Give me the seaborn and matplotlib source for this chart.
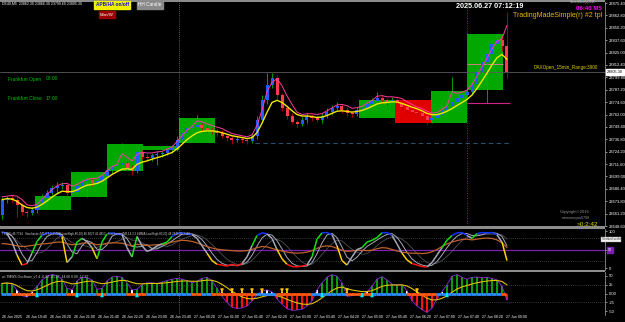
import numpy as np
import pandas as pd
import matplotlib
matplotlib.use("Agg")
import matplotlib.pyplot as plt
import seaborn as sns
from matplotlib.collections import LineCollection
from matplotlib.patches import Rectangle

# ---------------- data ----------------
first_open = 23660.1
closes = [
    23675.3, 23677.3, 23675.3, 23670.2, 23663.1, 23662.1, 23665.1, 23670.2, 23677.3, 23682.4,
    23687.5, 23689.5, 23690.5, 23682.4, 23683.4, 23689.5, 23694.6, 23695.6, 23692.6, 23694.6,
    23699.7, 23705.8, 23709.8, 23710.9, 23712.9, 23707.8, 23704.8, 23724.1, 23719.0, 23718.0,
    23721.0, 23722.0, 23723.1, 23726.1, 23728.1, 23736.3, 23743.4, 23748.5, 23749.5, 23751.5,
    23748.5, 23746.4, 23745.4, 23743.4, 23740.3, 23738.3, 23736.3, 23737.3, 23736.3, 23735.2,
    23740.3, 23756.6, 23776.9, 23792.1, 23799.3, 23782.0, 23768.8, 23760.6, 23754.5, 23752.5,
    23756.6, 23760.6, 23758.6, 23756.6, 23760.6, 23764.7, 23768.8, 23770.8, 23766.7, 23763.7,
    23762.7, 23766.7, 23768.8, 23772.8, 23775.9, 23778.9, 23776.9, 23774.9, 23776.9, 23773.9,
    23769.8, 23766.7, 23764.7, 23763.7, 23760.6, 23756.6, 23758.6, 23761.7, 23766.7, 23770.8,
    23774.9, 23778.9, 23782.0, 23785.0, 23793.2, 23805.3, 23815.5, 23823.6, 23833.8, 23837.9,
    23831.8, 23805.3]
wick_up = [
    3, 2, 3, 3, 2, 2, 3, 2, 4, 3,
    3, 4, 3, 2, 3, 3, 2, 3, 2, 3,
    3, 4, 3, 3, 20, 2, 3, 4, 2, 3,
    2, 3, 2, 3, 3, 4, 3, 3, 4, 10,
    2, 2, 3, 2, 3, 2, 2, 3, 2, 2,
    3, 4, 5, 12, 5, 3, 2, 2, 3, 2,
    3, 3, 2, 3, 3, 4, 3, 4, 2, 3,
    2, 3, 3, 4, 3, 6, 3, 2, 3, 2,
    3, 2, 3, 2, 3, 2, 3, 3, 4, 3,
    25, 3, 4, 4, 5, 4, 5, 4, 5, 6,
    4, 34.5]
wick_dn = [
    4, 3, 2, 12, 3, 4, 2, 3, 2, 3,
    2, 5, 3, 3, 2, 3, 2, 16, 3, 2,
    3, 2, 3, 2, 3, 3, 4, 2, 3, 2,
    3, 10, 3, 2, 3, 3, 2, 3, 2, 3,
    3, 2, 3, 3, 2, 3, 4, 2, 3, 3,
    2, 3, 3, 4, 3, 4, 3, 3, 2, 3,
    2, 3, 3, 2, 3, 2, 3, 2, 3, 3,
    3, 2, 3, 3, 2, 3, 3, 3, 2, 3,
    3, 3, 2, 3, 3, 4, 3, 3, 2, 3,
    3, 3, 3, 4, 3, 3, 4, 42, 3, 4,
    5, 5.7]
stoch_fast = [
    97, 93, 70, 35, 8, 12, 40, 72, 88, 95,
    93, 94, 85, 15, 30, 70, 80, 72, 55, 25,
    70, 92, 95, 92, 90, 55, 30, 85, 60, 45,
    50, 60, 65, 70, 85, 93, 95, 92, 90, 80,
    60, 40, 20, 10, 8, 5, 10, 6, 12, 30,
    60, 88, 95, 92, 80, 50, 25, 10, 4, 3,
    5, 8, 30, 78, 95, 96, 90, 60, 20, 8,
    30, 50, 55, 70, 75, 82, 95, 96, 88, 65,
    40, 22, 12, 8, 4, 3, 15, 35, 55, 75,
    88, 95, 96, 88, 80, 93, 96, 95, 96, 90,
    70, 20]
tsi_line = [
    66, 65, 63, 60, 58, 59, 61, 63, 65, 66,
    68, 70, 70, 66, 63, 64, 67, 68, 66, 63,
    64, 67, 68, 68, 67, 63, 60, 64, 63, 61,
    62, 63, 64, 66, 70, 73, 75, 74, 72, 68,
    63, 58, 54, 51, 49, 48, 47, 46, 46, 47,
    50, 55, 58, 57, 53, 49, 46, 43, 41, 40,
    41, 43, 47, 53, 58, 60, 58, 53, 48, 45,
    46, 48, 48, 47, 48, 52, 55, 54, 50, 46,
    43, 41, 40, 40, 39, 40, 44, 50, 58, 65,
    70, 74, 77, 78, 76, 78, 80, 81, 80, 76,
    68, 55]
osc_hist = [
    28, 30, 26, 10, -6, -10, 5, 20, 38, 48,
    53, 50, 40, 15, 10, 35, 45, 44, 38, 12,
    14, 35, 46, 48, 45, 30, 10, 12, 25, 30,
    30, 28, 32, 36, 40, 42, 40, 36, 30, 34,
    42, 45, 35, 15, -8, -25, -38, -42, -40, -35,
    -20, -5, 8, 10, 4, -15, -30, -42, -47, -46,
    -44, -35, -20, 10, 30, 45, 53, 48, 30, -8,
    -6, -4, -3, 5, 20, 40, 47, 38, 26, 24,
    25, 8, -20, -35, -45, -53, -40, -15, 5, 25,
    48, 53, 45, 40, 45, 46, 44, 45, 42, 38,
    20, -18]
cyan_up_bars = [7, 15, 20, 27, 64, 72, 74, 89]
yellow_dn_bars = [44, 46, 48, 50, 52, 56, 57, 69, 83]

# hourly session boxes (minutes after 26 Jun 19:00)
box_start = [60, 120, 180, 240, 300, 600, 660, 720, 780]
box_hi = [23679.3, 23703.8, 23732.2, 23730.2, 23758.6, 23776.9, 23776.9, 23786.0, 23843.9]
box_lo = [23665.1, 23678.3, 23704.8, 23726.1, 23733.2, 23758.6, 23753.5, 23753.5, 23787.0]
box_bull = [1, 1, 1, 1, 1, 1, 0, 1, 1]

price_ticks = ["23875.40", "23862.80", "23850.20", "23837.60", "23825.00", "23812.40",
               "23799.80", "23787.20", "23774.60", "23762.00", "23749.40", "23736.80",
               "23724.20", "23711.60", "23699.00", "23686.40", "23673.80", "23661.20",
               "23648.60"]
time_labels = ["26 Jun 2025", "26 Jun 19:40", "26 Jun 20:20", "26 Jun 21:00", "26 Jun 21:40",
               "26 Jun 22:20", "26 Jun 23:00", "26 Jun 23:40", "27 Jun 00:20", "27 Jun 01:00",
               "27 Jun 01:40", "27 Jun 02:20", "27 Jun 03:00", "27 Jun 03:40", "27 Jun 04:20",
               "27 Jun 05:00", "27 Jun 05:40", "27 Jun 06:20", "27 Jun 07:00", "27 Jun 07:40",
               "27 Jun 08:20", "27 Jun 09:00"]
osc_ticks = [50, 25, 0, -25, -50]
osc_tick_labels = ["50", "25", "0.00", "-25", "-50"]
bid_price = 23805.3
range_line = 23733.2
hour_hi_line = 23813.5
hour_mid_line = 23773.9

# ---------------- figure ----------------
sns.set_theme(style="dark", rc={"axes.facecolor": "black", "figure.facecolor": "black",
                                "axes.edgecolor": "#8c8c8c", "text.color": "white",
                                "xtick.color": "white", "ytick.color": "white"})
plt.rcParams['font.family'] = ['Liberation Sans', 'DejaVu Sans']

W, H = 625, 322
fig = plt.figure(figsize=(W / 100, H / 100), dpi=100, facecolor="black")


def px_axes(x0, y0, x1, y1):
    a = fig.add_axes([x0 / W, 1 - y1 / H, (x1 - x0) / W, (y1 - y0) / H])
    a.set_facecolor("black")
    for s in ["top", "left", "bottom"]:
        a.spines[s].set_visible(False)
    a.spines["right"].set_color("#8c8c8c")
    a.spines["right"].set_linewidth(0.6)
    a.yaxis.tick_right()
    a.tick_params(axis="y", labelsize=3.0, length=1.5, width=0.4, pad=1, colors="white")
    a.tick_params(axis="x", length=0, labelbottom=False)
    a.grid(False)
    return a


def fig_rect(x0, y0, x1, y1, color):
    fig.add_artist(Rectangle((x0 / W, 1 - y1 / H), (x1 - x0) / W, (y1 - y0) / H,
                             transform=fig.transFigure, color=color, lw=0))


ax_m = px_axes(0, 1.5, 605, 226)
ax_s = px_axes(0, 228.5, 605, 270)
ax_o = px_axes(0, 272, 605, 315)

t0, t1 = 1 / 0.6, 606 / 0.6
for a in (ax_m, ax_s, ax_o):
    a.set_xlim(t0, t1)

n = len(closes)
bar_min = 5 + np.arange(n) * 25 / 3
opens = np.array([first_open] + closes[:-1])
c = np.array(closes)
hi = np.maximum(opens, c) + np.array(wick_up)
lo = np.minimum(opens, c) - np.array(wick_dn)
bw = 25 / 3 * 0.6

# ----- main panel -----
ax_m.set_ylim(23648.9, 23877.0)
for s, h, l, b in zip(box_start, box_hi, box_lo, box_bull):
    ax_m.add_patch(Rectangle((s, l), 60, h - l, color="#00a800" if b else "#e00000", lw=0, zorder=1))

ax_m.axhline(bid_price, color="#5a5a5a", lw=0.6, zorder=1.5)
ax_m.hlines(range_line, 427, 852, colors="#28506e", lw=0.8, linestyles=(0, (4, 3)), zorder=1.5)
ax_m.hlines(hour_hi_line, 780, 840, colors="#d08080", lw=0.7, zorder=1.5)
ax_m.hlines(hour_mid_line, 780, 852, colors="#d0208a", lw=0.8, zorder=1.5)
ax_m.axvline(780, color="#00a000", lw=0.6, ls=(0, (1, 2)), zorder=1.5)

up = c >= opens
ax_m.vlines(bar_min[up], lo[up], hi[up], colors="#00b400", lw=0.6, zorder=2)
ax_m.vlines(bar_min[~up], lo[~up], hi[~up], colors="#c00000", lw=0.6, zorder=2)
ax_m.bar(bar_min[up], (c - opens)[up], bottom=opens[up], width=bw, color="#1f5bff", lw=0, zorder=3)
ax_m.bar(bar_min[~up], (c - opens)[~up], bottom=opens[~up], width=bw, color="#ff3a4a", lw=0, zorder=3)

ema_slow = pd.Series(c).ewm(span=6).mean().values
ema_fast = pd.Series(hi).ewm(span=3).mean().values
sns.lineplot(x=bar_min, y=ema_slow, ax=ax_m, color="#f2e600", lw=1.0, zorder=4)
sns.lineplot(x=bar_min, y=ema_fast, ax=ax_m, color="#ff3aa0", lw=0.7, zorder=4)

ax_m.set_yticks([float(v) for v in price_ticks])
ax_m.set_yticklabels(price_ticks)
ax_m.set_ylabel("")

# ----- stochastic panel -----
ax_s.set_ylim(-5.4, 106.8)
ax_s.axhline(50, color="#7a1fb0", lw=0.9, zorder=1)
for lvl in (80, 20):
    ax_s.axhline(lvl, color="#6a6a6a", lw=0.5, ls=(0, (1, 2)), zorder=1)
sv = np.array(stoch_fast, float)
sig1 = pd.Series(sv).rolling(3, min_periods=1).mean().values
sig2 = pd.Series(sv).rolling(6, min_periods=1).mean().values
sns.lineplot(x=bar_min, y=sig2, ax=ax_s, color="#5c5c66", lw=0.5, zorder=2)
sns.lineplot(x=bar_min, y=sig1, ax=ax_s, color="#a4a8b8", lw=0.7, zorder=2)
sns.lineplot(x=bar_min, y=tsi_line, ax=ax_s, color="#c0602a", lw=0.9, zorder=2.5)
segs, cols = [], []
for i in range(n - 1):
    a_, b_ = sv[i], sv[i + 1]
    segs.append([(bar_min[i], a_), (bar_min[i + 1], b_)])
    if a_ >= 85 and b_ >= 85:
        cols.append("#1034ff")
    elif b_ > a_ and b_ >= 70:
        cols.append("#12e012")
    elif max(a_, b_) <= 12:
        cols.append("#ff1010")
    elif b_ < a_ and b_ < 30:
        cols.append("#ffd000")
    else:
        cols.append("#a4a8b8")
ax_s.add_collection(LineCollection(segs, colors=cols, linewidths=1.1, zorder=3))
ax_s.set_yticks([100, 50, 0])
ax_s.set_yticklabels(["100", "", "0"])
ax_s.set_ylabel("")

# ----- oscillator panel -----
ax_o.set_ylim(-60, 60)
for lvl in (25, -25):
    ax_o.axhline(lvl, color="#6a6a6a", lw=0.5, ls=(0, (1, 2)), zorder=1)
hv = np.array(osc_hist, float)
bar_cols = ["#ffffff" if abs(v) < 12 else ("#0b9a0b" if v > 0 else "#ff1010") for v in hv]
ax_o.bar(bar_min, hv, width=bw * 0.75, color=bar_cols, lw=0, zorder=2)
sns.lineplot(x=bar_min, y=hv, ax=ax_o, color="#8a2be2", lw=0.6, zorder=2.5)
sig = pd.Series(hv).ewm(span=10).mean().values
sns.lineplot(x=bar_min, y=sig, ax=ax_o, color="#e0c000", lw=0.8, zorder=3)
zsegs, zcols = [], []
for i in range(n - 1):
    zsegs.append([(bar_min[i] - 2, 0), (bar_min[i + 1] - 2, 0)])
    zcols.append("#2a8cff" if hv[i] >= sig[i] else "#ff5a10")
ax_o.add_collection(LineCollection(zsegs, colors=zcols, linewidths=2.0, zorder=3.5))
for i in cyan_up_bars:
    ax_o.annotate("", xy=(bar_min[i], 9), xytext=(bar_min[i], -9),
                  arrowprops=dict(arrowstyle="-|>", color="#00e8ff", lw=0.9, mutation_scale=4), zorder=4)
for i in yellow_dn_bars:
    ax_o.annotate("", xy=(bar_min[i], -5), xytext=(bar_min[i], 11),
                  arrowprops=dict(arrowstyle="-|>", color="#ffc800", lw=0.9, mutation_scale=4), zorder=4)
ax_o.set_yticks(osc_ticks)
ax_o.set_yticklabels(osc_tick_labels)
ax_o.set_ylabel("")

# day separator (27 Jun 00:00) through all panels
for a in (ax_m, ax_s, ax_o):
    a.axvline(300, color="#b0b0b0", lw=0.5, ls=(0, (1, 2)), zorder=1.2)

# x tick labels (left aligned, below bottom panel)
tick_min = np.arange(len(time_labels)) * 40
for tm, lab in zip(tick_min, time_labels):
    xp = -1 + 0.6 * tm
    fig.text((xp + 3) / W, 1 - 317.5 / H, lab, fontsize=2.6, color="white", ha="left", va="center")

# separators / borders
fig_rect(0, 0, 605, 1.5, "#8c8c8c")
fig_rect(0, 226, 605, 228.5, "#8c8c8c")
fig_rect(0, 270, 605, 272, "#8c8c8c")
fig_rect(0, 314.6, 605, 315.2, "#8c8c8c")


def ftxt(x, y, s, **kw):
    kw.setdefault("va", "center")
    fig.text(x / W, 1 - y / H, s, **kw)


# ----- annotations -----
ftxt(2, 4, "DE40,M5  23862.30 23866.30 23799.60 23805.30", fontsize=2.6, color="white")
ftxt(112, 5, "APB/HA on/off", fontsize=3.4, color="#1010d0", weight="bold", ha="center",
     bbox=dict(boxstyle="square,pad=0.25", fc="#f0f000", ec="#f0f000"))
ftxt(150, 5, "HH Candle", fontsize=3.4, color="white", ha="center",
     bbox=dict(boxstyle="square,pad=0.25", fc="#8a8a8a", ec="#8a8a8a"))
ftxt(107, 14.5, "M/m/W", fontsize=3.2, color="white", ha="center",
     bbox=dict(boxstyle="square,pad=0.25", fc="#9a0000", ec="#9a0000"))
ftxt(490, 6, "2025.06.27 07:12:19", fontsize=5.2, color="white", weight="bold", ha="center")
ftxt(583, 2.5, "ScreenShot(c)2015", fontsize=2.2, color="#d0d0d0", ha="center")
ftxt(589, 9, "06:40 M5", fontsize=4.4, color="#ff00ff", weight="bold", ha="center")
ftxt(602, 15.5, "TradingMadeSimple(r) #2 tpl", fontsize=5.0, color="#e8b800", ha="right")
ftxt(566, 67.5, "DAXOpen_15min_Range:3900", fontsize=3.3, color="#e0d000", ha="center")
ftxt(8, 79, "Frankfurt Open", fontsize=3.5, color="#00c000")
ftxt(46, 79, "08:00", fontsize=3.5, color="#00c000")
ftxt(8, 98, "Frankfurt Close", fontsize=3.5, color="#00c000")
ftxt(46, 98, "17:00", fontsize=3.5, color="#00c000")
ftxt(560, 212, "Copyright©2016", fontsize=3.0, color="#909090")
ftxt(562, 217.5, "memoneyoo0708", fontsize=2.6, color="#909090")
ftxt(577, 224, ">0:2:42", fontsize=4.6, color="#d8d800")
ftxt(615, 72, "23805.30", fontsize=2.8, color="black", ha="center",
     bbox=dict(boxstyle="square,pad=0.2", fc="white", ec="white"))
ftxt(2, 233.5, "TSI(24) 46.7794   Stochastic (M5,8,3,3,SMMA,Low/High,80,20) 46.9027 41.4852   "
     "Stochastic (M5,14,3,3,SMMA,Low/High,80,20) 48.2848 35.3448", fontsize=2.1, color="#d0d0d0")
ftxt(2, 276, "wt TMWS Oscillator_v7.4 -6.33 -25.27 -44.66 0.00 -17.87", fontsize=2.4, color="#d0d0d0")
ftxt(611, 239.5, "Vertical scale", fontsize=2.3, color="#333333", ha="center",
     bbox=dict(boxstyle="square,pad=0.3", fc="#f2f2f2", ec="#999999", lw=0.3))
ftxt(610, 250, "50", fontsize=2.8, color="white", ha="center",
     bbox=dict(boxstyle="square,pad=0.2", fc="#7a1fb0", ec="#7a1fb0"))

fig.savefig("out.png", dpi=100, facecolor="black")
